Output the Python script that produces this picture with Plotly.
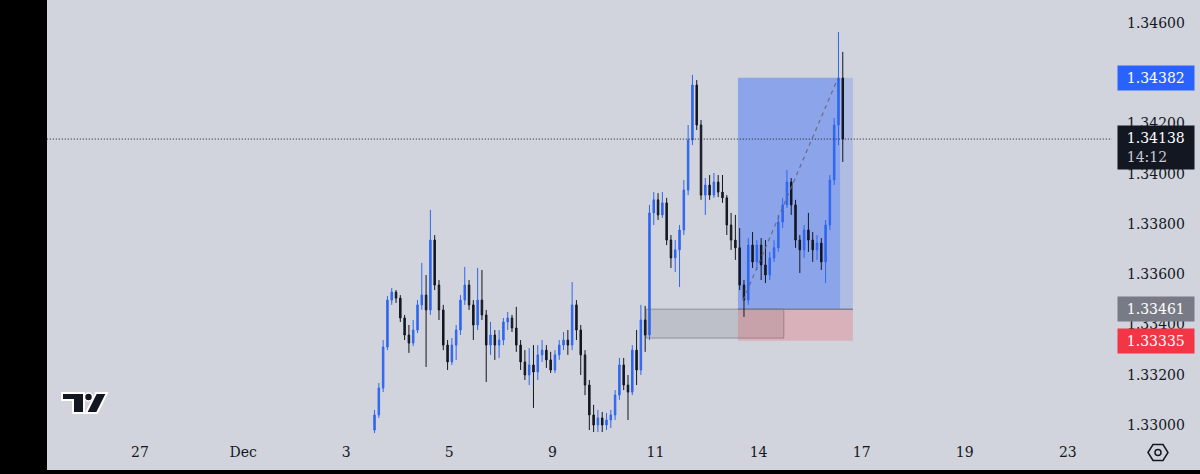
import plotly.graph_objects as go

# ---------------- data ----------------
day_tick_vals = [0, 2, 4, 6, 8, 10, 12, 14, 16, 18]
day_tick_text = ["27", "Dec", "3", "5", "9", "11", "14", "17", "19", "23"]
price_tick_vals = [1.330, 1.332, 1.334, 1.336, 1.338, 1.340, 1.342, 1.344, 1.346]
price_tick_text = ["1.33000", "1.33200", "1.33400", "1.33600", "1.33800",
                   "1.34000", "1.34200", "1.34400", "1.34600"]

first_bar_day = 4.55      # session-day position of the first bar
bars_per_day = 12         # 2-hour bars

opens = [1.32980, 1.33040, 1.33147, 1.33310, 1.33497, 1.33529, 1.33505, 1.33426, 1.33358, 1.33326,
         1.33378, 1.33478, 1.33517, 1.33458, 1.33736, 1.33557, 1.33458, 1.33318, 1.33251, 1.33318,
         1.33378, 1.33497, 1.33557, 1.33478, 1.33398, 1.33497, 1.33438, 1.33318, 1.33358, 1.33318,
         1.33338, 1.33410, 1.33426, 1.33386, 1.33318, 1.33251, 1.33199, 1.33239, 1.33211, 1.33279,
         1.33298, 1.33259, 1.33219, 1.33279, 1.33318, 1.33338, 1.33318, 1.33478, 1.33378, 1.33279,
         1.33159, 1.33040, 1.33000, 1.33028, 1.33000, 1.33020, 1.33040, 1.33119, 1.33239, 1.33159,
         1.33131, 1.33298, 1.33219, 1.33418, 1.33358, 1.33844, 1.33896, 1.33836, 1.33884, 1.33736,
         1.33665, 1.33697, 1.33776, 1.33935, 1.34134, 1.34353, 1.34194, 1.33915, 1.33955, 1.33915,
         1.33967, 1.33927, 1.33904, 1.33796, 1.33736, 1.33705, 1.33557, 1.33497, 1.33716, 1.33649,
         1.33716, 1.33637, 1.33597, 1.33665, 1.33705, 1.33808, 1.33876, 1.33967, 1.33876, 1.33736,
         1.33697, 1.33776, 1.33736, 1.33697, 1.33724, 1.33649, 1.33796, 1.33975, 1.34194, 1.34381]
highs = [1.33060, 1.33167, 1.33338, 1.33513, 1.33545, 1.33537, 1.33517, 1.33438, 1.33398, 1.33418,
         1.33497, 1.33645, 1.33597, 1.33856, 1.33756, 1.33577, 1.33478, 1.33338, 1.33346, 1.33398,
         1.33517, 1.33629, 1.33577, 1.33497, 1.33625, 1.33617, 1.33458, 1.33410, 1.33378, 1.33378,
         1.33426, 1.33450, 1.33438, 1.33470, 1.33338, 1.33298, 1.33306, 1.33318, 1.33318, 1.33338,
         1.33318, 1.33291, 1.33298, 1.33338, 1.33370, 1.33378, 1.33569, 1.33497, 1.33398, 1.33298,
         1.33179, 1.33080, 1.33060, 1.33052, 1.33048, 1.33060, 1.33139, 1.33267, 1.33267, 1.33199,
         1.33318, 1.33378, 1.33478, 1.33474, 1.33876, 1.33927, 1.33923, 1.33927, 1.33904, 1.33756,
         1.33736, 1.33796, 1.33975, 1.34194, 1.34393, 1.34373, 1.34214, 1.33983, 1.33995, 1.34003,
         1.33995, 1.33995, 1.33915, 1.33844, 1.33836, 1.33784, 1.33577, 1.33744, 1.33768, 1.33736,
         1.33744, 1.33736, 1.33689, 1.33736, 1.33836, 1.33904, 1.34015, 1.33983, 1.33896, 1.33756,
         1.33796, 1.33844, 1.33768, 1.33756, 1.33744, 1.33816, 1.33995, 1.34222, 1.34564, 1.34485]
lows = [1.32968, 1.33028, 1.33131, 1.33298, 1.33478, 1.33486, 1.33410, 1.33338, 1.33287, 1.33314,
        1.33366, 1.33458, 1.33231, 1.33438, 1.33537, 1.33418, 1.33298, 1.33219, 1.33239, 1.33259,
        1.33358, 1.33478, 1.33458, 1.33338, 1.33378, 1.33418, 1.33171, 1.33279, 1.33259, 1.33267,
        1.33318, 1.33378, 1.33370, 1.33291, 1.33219, 1.33179, 1.33159, 1.33068, 1.33179, 1.33251,
        1.33227, 1.33207, 1.33207, 1.33259, 1.33298, 1.33279, 1.33298, 1.33338, 1.33199, 1.33119,
        1.32980, 1.32972, 1.32972, 1.32972, 1.32980, 1.32988, 1.33020, 1.33100, 1.33139, 1.33020,
        1.33119, 1.33159, 1.33199, 1.33291, 1.33338, 1.33796, 1.33816, 1.33824, 1.33716, 1.33625,
        1.33609, 1.33549, 1.33756, 1.33915, 1.34114, 1.34174, 1.33896, 1.33836, 1.33896, 1.33904,
        1.33907, 1.33884, 1.33756, 1.33697, 1.33657, 1.33537, 1.33430, 1.33478, 1.33625, 1.33617,
        1.33577, 1.33565, 1.33577, 1.33649, 1.33689, 1.33784, 1.33864, 1.33836, 1.33705, 1.33605,
        1.33665, 1.33689, 1.33649, 1.33657, 1.33617, 1.33565, 1.33776, 1.33955, 1.34114, 1.34047]
closes = [1.33040, 1.33147, 1.33310, 1.33497, 1.33529, 1.33505, 1.33426, 1.33358, 1.33326, 1.33378,
          1.33478, 1.33517, 1.33458, 1.33736, 1.33557, 1.33458, 1.33318, 1.33251, 1.33318, 1.33378,
          1.33497, 1.33557, 1.33478, 1.33398, 1.33497, 1.33438, 1.33318, 1.33358, 1.33318, 1.33338,
          1.33410, 1.33426, 1.33386, 1.33318, 1.33251, 1.33199, 1.33239, 1.33211, 1.33279, 1.33298,
          1.33259, 1.33219, 1.33279, 1.33318, 1.33338, 1.33318, 1.33478, 1.33378, 1.33279, 1.33159,
          1.33040, 1.33000, 1.33028, 1.33000, 1.33020, 1.33040, 1.33119, 1.33239, 1.33159, 1.33131,
          1.33298, 1.33219, 1.33418, 1.33358, 1.33844, 1.33896, 1.33836, 1.33884, 1.33736, 1.33665,
          1.33697, 1.33776, 1.33935, 1.34134, 1.34353, 1.34194, 1.33915, 1.33955, 1.33915, 1.33967,
          1.33927, 1.33904, 1.33796, 1.33736, 1.33705, 1.33557, 1.33497, 1.33716, 1.33649, 1.33716,
          1.33637, 1.33597, 1.33665, 1.33705, 1.33808, 1.33876, 1.33967, 1.33876, 1.33736, 1.33697,
          1.33776, 1.33736, 1.33697, 1.33724, 1.33649, 1.33796, 1.33975, 1.34194, 1.34381, 1.34138]

# position tool / drawings (session-day x, price y)
target_price = 1.34382
entry_price = 1.33461
stop_price = 1.33335
current_price = 1.34138
current_time = "14:12"
position_x = [11.60, 13.83]
position_reached_x = 13.58
block_x = [9.82, 12.49]
block_y = [1.33346, 1.33461]
path_x = [11.70, 13.54]
path_y = [1.33497, 1.34381]

# ---------------- colours ----------------
BG = "#d1d4dc"
UP = "#2f66f0"
DOWN = "#131722"
TEXT = "#131722"

# ---------------- geometry ----------------
W, H = 1200, 474
ML, MR, MT, MB = 47, 88, 0, 37
PW, PH = W - ML - MR, H - MT - MB


def px(xp, yp):
    """pixel -> paper coordinates (for decorative icons only)"""
    return (xp - ML) / PW, (H - MB - yp) / PH


bar_x = [first_bar_day + i / bars_per_day for i in range(len(closes))]

fig = go.Figure()
fig.add_trace(go.Candlestick(
    x=bar_x, open=opens, high=highs, low=lows, close=closes,
    increasing=dict(line=dict(color=UP, width=1), fillcolor=UP),
    decreasing=dict(line=dict(color=DOWN, width=1), fillcolor=DOWN),
    whiskerwidth=0, showlegend=False, hoverinfo="skip",
))

shapes = []
# gray block
shapes.append(dict(type="rect", xref="x", yref="y", x0=block_x[0], x1=block_x[1],
                   y0=block_y[0], y1=block_y[1], layer="below",
                   fillcolor="rgba(120,123,134,0.22)",
                   line=dict(color="rgba(120,123,134,0.7)", width=1)))
# profit zone (light + traversed darker)
shapes.append(dict(type="rect", xref="x", yref="y", x0=position_x[0], x1=position_x[1],
                   y0=entry_price, y1=target_price, layer="below",
                   fillcolor="rgba(41,98,255,0.2)", line=dict(width=0)))
shapes.append(dict(type="rect", xref="x", yref="y", x0=position_x[0], x1=position_reached_x,
                   y0=entry_price, y1=target_price, layer="below",
                   fillcolor="rgba(41,98,255,0.26)", line=dict(width=0)))
# stop zone
shapes.append(dict(type="rect", xref="x", yref="y", x0=position_x[0], x1=position_x[1],
                   y0=stop_price, y1=entry_price, layer="below",
                   fillcolor="rgba(242,54,69,0.22)", line=dict(width=0)))
# entry line
shapes.append(dict(type="line", xref="x", yref="y", x0=position_x[0], x1=position_x[1],
                   y0=entry_price, y1=entry_price, layer="below",
                   line=dict(color="rgba(120,123,134,0.9)", width=1.5)))
# dashed path line
shapes.append(dict(type="line", xref="x", yref="y", x0=path_x[0], x1=path_x[1],
                   y0=path_y[0], y1=path_y[1], layer="above",
                   line=dict(color="rgba(100,103,114,0.9)", width=1.2, dash="4px,4px")))
# current price dotted line
shapes.append(dict(type="line", xref="paper", yref="y", x0=-0.003, x1=1.0,
                   y0=current_price, y1=current_price, layer="above",
                   line=dict(color=TEXT, width=1, dash="1px,2px")))

# black frame strips (left and bottom)
shapes.append(dict(type="rect", xref="paper", yref="paper", x0=-0.06, x1=0,
                   y0=-0.12, y1=1.02, fillcolor="#000000", line=dict(width=0), layer="above"))
bx0, by0 = px(0, 470)
bx1, by1 = px(W, H + 2)
shapes.append(dict(type="rect", xref="paper", yref="paper", x0=-0.06, x1=bx1,
                   y0=by1, y1=by0, fillcolor="#000000", line=dict(width=0), layer="above"))

# TradingView logo
def pth(points):
    s = ""
    for k, (a, b) in enumerate(points):
        xx, yy = px(a, b)
        s += ("M" if k == 0 else "L") + f"{xx:.5f},{yy:.5f} "
    return s + "Z"

logo_T = [(62, 393), (84, 393), (84, 413), (73, 413), (73, 400), (62, 400)]
logo_slash = [(96, 393), (107, 393), (97, 413), (86, 413)]
for pts in (logo_T, logo_slash):
    shapes.append(dict(type="path", xref="paper", yref="paper", path=pth(pts),
                       fillcolor="#131722", line=dict(color="#ffffff", width=2), layer="above"))
cx0, cy0 = px(84.5, 393)
cx1, cy1 = px(92.5, 401)
shapes.append(dict(type="circle", xref="paper", yref="paper", x0=cx0, x1=cx1, y0=cy1, y1=cy0,
                   fillcolor="#131722", line=dict(color="#ffffff", width=1.5), layer="above"))

# settings hexagon icon
hexa = [(1148, 452.5), (1153, 444.5), (1163, 444.5), (1168, 452.5), (1163, 460.5), (1153, 460.5)]
shapes.append(dict(type="path", xref="paper", yref="paper", path=pth(hexa),
                   fillcolor="rgba(0,0,0,0)", line=dict(color=TEXT, width=1.5), layer="above"))
hx0, hy0 = px(1155, 449.5)
hx1, hy1 = px(1161, 455.5)
shapes.append(dict(type="circle", xref="paper", yref="paper", x0=hx0, x1=hx1, y0=hy1, y1=hy0,
                   fillcolor="rgba(0,0,0,0)", line=dict(color=TEXT, width=1.5), layer="above"))

# price-scale labels
lab_x = (1117 - ML) / PW
FONT = "DejaVu Serif"
SP = "\u2009"
annotations = []
for val, col in ((target_price, "#2962ff"), (entry_price, "#787b86"), (stop_price, "#f23645")):
    annotations.append(dict(xref="paper", yref="y", x=lab_x, y=val, xanchor="left",
                            yanchor="middle", text=f"{SP}{val:.5f}", showarrow=False,
                            bgcolor=col, borderpad=6, width=64, height=12, align="left",
                            font=dict(family=FONT, size=14, color="#ffffff")))
annotations.append(dict(xref="paper", yref="y", x=lab_x, y=current_price, xanchor="left",
                        yanchor="top", yshift=14, showarrow=False,
                        text=f"{SP}{current_price:.5f}<br>{SP}<span style='color:#c8cad2'>{current_time}</span>",
                        bgcolor="#131722", borderpad=6, width=64, height=31, align="left",
                        font=dict(family=FONT, size=14, color="#ffffff")))

fig.update_layout(
    width=W, height=H,
    margin=dict(l=ML, r=MR, t=MT, b=MB, pad=0),
    paper_bgcolor=BG, plot_bgcolor=BG,
    boxgap=0.5,
    shapes=shapes, annotations=annotations,
    showlegend=False,
    font=dict(family=FONT, size=14, color=TEXT),
    xaxis=dict(range=[-1.804, 18.856], tickvals=day_tick_vals, ticktext=day_tick_text,
               showgrid=False, zeroline=False, showline=False, ticks="",
               rangeslider=dict(visible=False), fixedrange=True,
               tickfont=dict(family=FONT, size=14, color=TEXT), ticklabelstandoff=5),
    yaxis=dict(range=[1.329522, 1.346915], side="right", tickvals=price_tick_vals,
               ticktext=price_tick_text, showgrid=False, zeroline=False, showline=False,
               ticks="", tickfont=dict(family=FONT, size=14, color=TEXT),
               ticklabelstandoff=14, fixedrange=True),
)

fig.write_html(
    "out.html",
    config={"displayModeBar": False},
    post_script="document.body.style.margin='0';document.body.style.padding='0';"
                "document.body.style.background='#000';",
)
